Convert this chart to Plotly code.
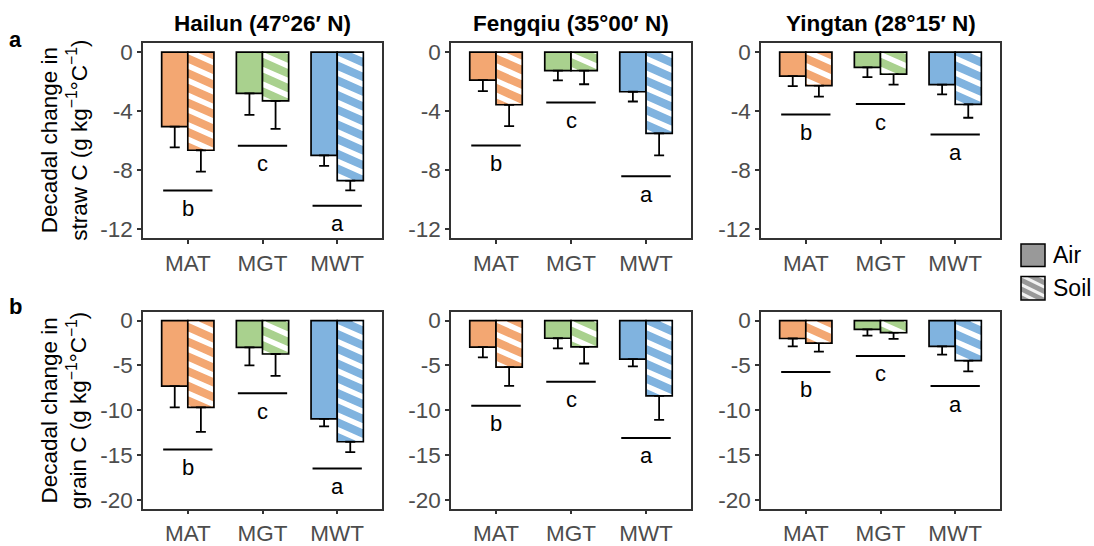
import math
import plotly.graph_objects as go

# ---------------- data ----------------
sites = ["Hailun (47°26′ N)", "Fengqiu (35°00′ N)", "Yingtan (28°15′ N)"]
categories = ["MAT", "MGT", "MWT"]
letters = ["b", "c", "a"]

# straw C (row a)
straw_air = [[-5.05, -2.80, -7.00], [-1.90, -1.26, -2.69], [-1.63, -1.04, -2.20]]
straw_air_err = [[1.40, 1.45, 0.70], [0.74, 0.66, 0.66], [0.68, 0.66, 0.66]]
straw_soil = [[-6.65, -3.30, -8.70], [-3.57, -1.26, -5.50], [-2.27, -1.50, -3.55]]
straw_soil_err = [[1.45, 1.90, 0.66], [1.45, 0.92, 1.50], [0.75, 0.70, 0.90]]
straw_line = [[-9.38, -6.34, -10.40], [-6.32, -3.41, -8.41], [-4.23, -3.52, -5.59]]

# grain C (row b)
grain_air = [[-7.31, -3.00, -10.97], [-2.96, -1.97, -4.31], [-2.00, -0.99, -2.89]]
grain_air_err = [[2.38, 2.00, 0.84], [1.14, 1.13, 0.81], [0.89, 0.69, 0.91]]
grain_soil = [[-9.69, -3.73, -13.53], [-5.19, -2.93, -8.41], [-2.52, -1.35, -4.46]]
grain_soil_err = [[2.74, 2.45, 1.17], [2.09, 1.86, 2.69], [0.95, 0.70, 1.21]]
grain_line = [[-14.40, -8.12, -16.53], [-9.50, -6.84, -13.10], [-5.74, -3.95, -7.31]]

y_ticks = [[0, -4, -8, -12], [0, -5, -10, -15, -20]]
y_ranges = [[-12.6, 0.6], [-21, 1]]
row_titles = ["Decadal change in<br>straw C (g kg<sup>−1</sup>°C<sup>−1</sup>)",
              "Decadal change in<br>grain C (g kg<sup>−1</sup>°C<sup>−1</sup>)"]
panel_tags = ["a", "b"]

colors = ["#F3A772", "#A9D18E", "#80B3DF"]

# ---------------- layout geometry ----------------
W, H = 1094, 546
FONT = "Liberation Sans"
col_px = [(143, 382), (451, 691), (761, 1000)]
row_px = [(41, 240), (315, 516)]
x_range = [0.4, 3.6]
BW = 0.35


def clip_poly(pts, xmin, xmax, ymin, ymax):
    def clip_edge(pts, inside, inter):
        out = []
        n = len(pts)
        for k in range(n):
            cur, prev = pts[k], pts[k - 1]
            if inside(cur):
                if not inside(prev):
                    out.append(inter(prev, cur))
                out.append(cur)
            elif inside(prev):
                out.append(inter(prev, cur))
        return out

    def ix(xc):
        def f(p, q):
            t = (xc - p[0]) / (q[0] - p[0])
            return (xc, p[1] + t * (q[1] - p[1]))
        return f

    def iy(yc):
        def f(p, q):
            t = (yc - p[1]) / (q[1] - p[1])
            return (p[0] + t * (q[0] - p[0]), yc)
        return f

    pts = clip_edge(pts, lambda p: p[0] >= xmin, ix(xmin))
    if pts:
        pts = clip_edge(pts, lambda p: p[0] <= xmax, ix(xmax))
    if pts:
        pts = clip_edge(pts, lambda p: p[1] >= ymin, iy(ymin))
    if pts:
        pts = clip_edge(pts, lambda p: p[1] <= ymax, iy(ymax))
    return pts


def stripe_polys(X0, X1, Y0, Y1, s=0.45, period=15.0, w=6.0, inset=1.0):
    polys = []
    cmin = Y0 - s * X1 - w
    cmax = Y1 - s * X0
    for n in range(math.floor(cmin / period) - 1, math.ceil(cmax / period) + 1):
        c = n * period
        a, b = X0 - 3, X1 + 3
        poly = [(a, s * a + c), (b, s * b + c), (b, s * b + c + w), (a, s * a + c + w)]
        cl = clip_poly(poly, X0 + inset, X1 - inset, Y0 + inset, Y1 - inset)
        if len(cl) >= 3:
            polys.append(cl)
    return polys


fig = go.Figure()
annotations = []
shapes = []
layout_axes = {}

rows = [
    (straw_air, straw_air_err, straw_soil, straw_soil_err, straw_line),
    (grain_air, grain_air_err, grain_soil, grain_soil_err, grain_line),
]

for r in range(2):
    air, air_err, soil, soil_err, lines = rows[r]
    py0, py1 = row_px[r]
    yr = y_ranges[r]
    for c in range(3):
        k = r * 3 + c + 1
        xa = "x" if k == 1 else f"x{k}"
        ya = "y" if k == 1 else f"y{k}"
        px0, px1 = col_px[c]
        Wp, Hp = px1 - px0, py1 - py0
        pos = [i + 1 for i in range(len(categories))]

        fig.add_trace(go.Bar(
            x=[p - BW / 2 for p in pos], y=air[c], width=BW,
            marker=dict(color=colors, line=dict(color="black", width=1.7)),
            error_y=dict(type="data", symmetric=False, array=[0] * 3, arrayminus=air_err[c],
                         color="black", thickness=1.8, width=5),
            xaxis=xa, yaxis=ya, showlegend=False, hoverinfo="skip"))
        fig.add_trace(go.Bar(
            x=[p + BW / 2 for p in pos], y=soil[c], width=BW,
            marker=dict(color=colors, line=dict(color="black", width=1.7)),
            error_y=dict(type="data", symmetric=False, array=[0] * 3, arrayminus=soil_err[c],
                         color="black", thickness=1.8, width=5),
            xaxis=xa, yaxis=ya, showlegend=False, hoverinfo="skip"))

        # hatch stripes on soil bars (computed from bar data via axis scales)
        def to_px(x, y):
            return ((x - x_range[0]) / (x_range[1] - x_range[0]) * Wp,
                    (yr[1] - y) / (yr[1] - yr[0]) * Hp)

        def to_data(X, Y):
            return (x_range[0] + X / Wp * (x_range[1] - x_range[0]),
                    yr[1] - Y / Hp * (yr[1] - yr[0]))

        sx, sy = [], []
        for i, p in enumerate(pos):
            X0, Y0 = to_px(p, 0)
            X1, Y1 = to_px(p + BW, soil[c][i])
            for poly in stripe_polys(X0, X1, Y0, Y1):
                for (X, Y) in poly + [poly[0]]:
                    dx, dy = to_data(X, Y)
                    sx.append(dx)
                    sy.append(dy)
                sx.append(None)
                sy.append(None)
        fig.add_trace(go.Scatter(
            x=sx, y=sy, mode="lines", fill="toself", fillcolor="white",
            line=dict(width=0, color="rgba(0,0,0,0)"),
            xaxis=xa, yaxis=ya, showlegend=False, hoverinfo="skip"))

        # significance lines
        lx, ly = [], []
        for i, p in enumerate(pos):
            lx += [p - 0.33, p + 0.33, None]
            ly += [lines[c][i], lines[c][i], None]
        fig.add_trace(go.Scatter(
            x=lx, y=ly, mode="lines", line=dict(color="black", width=2),
            xaxis=xa, yaxis=ya, showlegend=False, hoverinfo="skip"))
        for i, p in enumerate(pos):
            annotations.append(dict(
                x=p, y=lines[c][i], xref=xa, yref=ya, text=letters[i], showarrow=False,
                yanchor="middle", yshift=-18, font=dict(family=FONT, size=22, color="black")))

        axis_common = dict(showline=True, mirror=True, linecolor="#333333", linewidth=1.6,
                           ticks="outside", ticklen=4, tickwidth=1.5, tickcolor="#333333",
                           tickfont=dict(family=FONT, size=22.5, color="#4D4D4D"),
                           showgrid=False, zeroline=False, fixedrange=True)
        layout_axes["xaxis" if k == 1 else f"xaxis{k}"] = dict(
            domain=[px0 / W, px1 / W], range=x_range, tickvals=pos, ticktext=categories,
            anchor=ya, **axis_common)
        layout_axes["yaxis" if k == 1 else f"yaxis{k}"] = dict(
            domain=[1 - py1 / H, 1 - py0 / H], range=yr, tickvals=y_ticks[r],
            ticktext=[str(t) for t in y_ticks[r]],
            anchor=xa, **axis_common)

        if r == 0:
            annotations.append(dict(
                x=(px0 + px1) / 2 / W, y=1 - 21 / H, xref="paper", yref="paper",
                text=f"<b>{sites[c]}</b>", showarrow=False, xanchor="center", yanchor="middle",
                font=dict(family=FONT, size=22.5, color="black")))

    annotations.append(dict(
        x=64 / W, y=1 - (py0 + py1) / 2 / H, xref="paper", yref="paper",
        text=row_titles[r], showarrow=False, textangle=-90, xanchor="center", yanchor="middle",
        font=dict(family=FONT, size=22.5, color="black")))
    annotations.append(dict(
        x=15 / W, y=1 - (37 if r == 0 else 310) / H, xref="paper", yref="paper",
        text=f"<b>{panel_tags[r]}</b>", showarrow=False, xanchor="center", yanchor="middle",
        font=dict(family=FONT, size=22, color="black")))

# ---------------- legend (drawn manually) ----------------
legend_items = ["Air", "Soil"]
key_px = [(1021, 1045, 246, 269), (1021, 1045, 279, 303)]
for j, name in enumerate(legend_items):
    X0, X1, Y0, Y1 = key_px[j]
    shapes.append(dict(type="rect", xref="paper", yref="paper",
                       x0=X0 / W, x1=X1 / W, y0=1 - Y1 / H, y1=1 - Y0 / H,
                       fillcolor="#999999", line=dict(width=0), layer="above"))
    if name == "Soil":
        for poly in stripe_polys(X0, X1, Y0, Y1, s=0.5, period=9.0, w=3.5, inset=0.5):
            path = "M " + " L ".join(f"{X / W:.5f},{1 - Y / H:.5f}" for X, Y in poly) + " Z"
            shapes.append(dict(type="path", xref="paper", yref="paper", path=path,
                               fillcolor="#F2F2F2", line=dict(width=0), layer="above"))
    shapes.append(dict(type="rect", xref="paper", yref="paper",
                       x0=X0 / W, x1=X1 / W, y0=1 - Y1 / H, y1=1 - Y0 / H,
                       fillcolor="rgba(0,0,0,0)", line=dict(color="black", width=1.5),
                       layer="above"))
    annotations.append(dict(x=1051 / W, y=1 - (Y0 + Y1) / 2 / H, xref="paper", yref="paper",
                            text=name, showarrow=False, xanchor="left", yanchor="middle",
                            font=dict(family=FONT, size=23, color="black")))

fig.update_layout(
    width=W, height=H, margin=dict(l=0, r=0, t=0, b=0),
    paper_bgcolor="white", plot_bgcolor="white", barmode="overlay",
    showlegend=False, annotations=annotations, shapes=shapes,
    font=dict(family=FONT), **layout_axes)

fig.write_html("out.html", config={"displayModeBar": False},
               post_script="document.body.style.margin='0px';document.body.style.padding='0px';")
